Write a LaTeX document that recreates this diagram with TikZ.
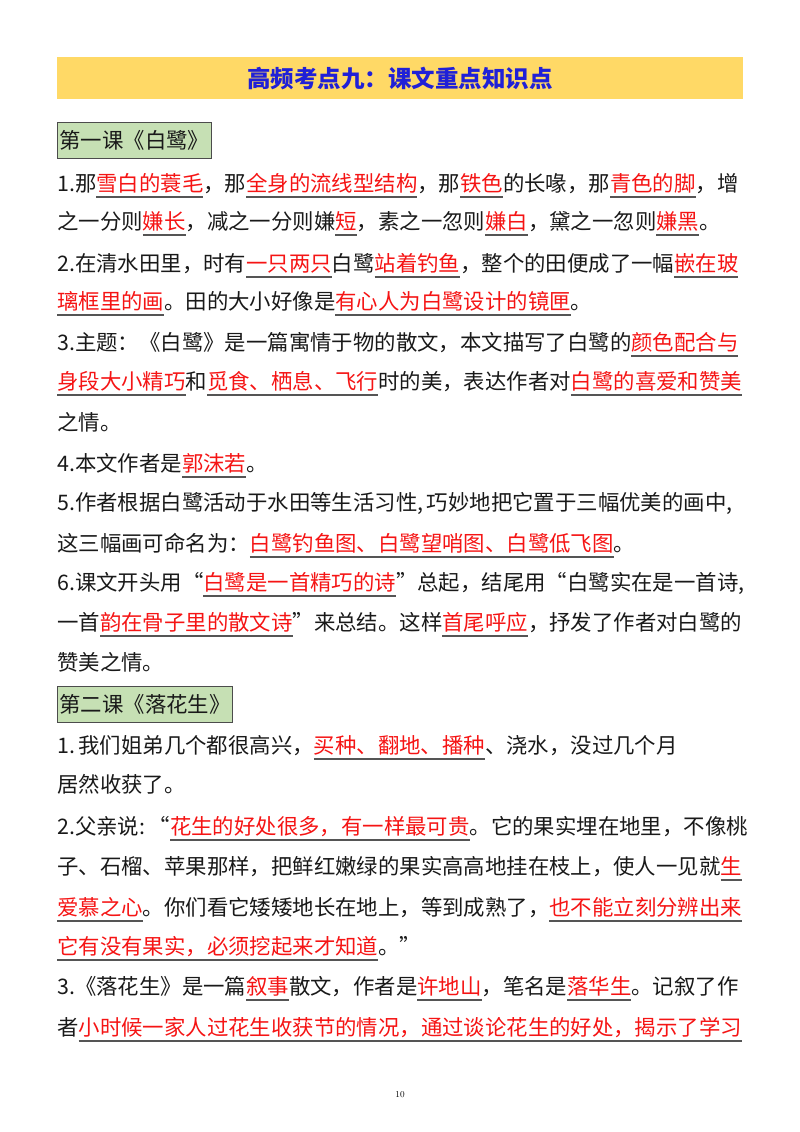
\documentclass[tikz,border=0pt]{standalone}
\usepackage{fontspec}
\newfontfamily\cjk{Noto Sans CJK SC}
\definecolor{titleyellow}{RGB}{255,217,102}
\definecolor{titleblue}{RGB}{32,32,215}
\definecolor{lessongreen}{RGB}{198,224,180}
\definecolor{hlred}{RGB}{245,20,20}
\definecolor{ulgray}{RGB}{85,85,85}
% red words, underlined in gray
\newcommand\hl[1]{\setbox0\hbox{\textcolor{hlred}{#1}}\rlap{\textcolor{ulgray}{\rule[-6.5pt]{\wd0}{1.2pt}}}\box0}
\tikzset{
	txt/.style={anchor=base west,inner sep=0pt,text=black!90,
		font={\cjk\fontsize{21.4}{26}\selectfont}},
	lesson/.style={anchor=west,draw=black!70,line width=0.8pt,fill=lessongreen,
		inner xsep=2pt,inner ysep=0pt,minimum height=36pt,text=black!90,
		font={\cjk\fontsize{21.4}{26}\selectfont}},
	titleband/.style={fill=titleyellow,minimum width=686pt,minimum height=42pt,
		inner sep=0pt,text=titleblue,font={\cjk\bfseries\fontsize{23.5}{28}\selectfont}}
}
\begin{document}
\begin{tikzpicture}[x=1pt,y=-1pt]
\useasboundingbox (0,0) rectangle (800,1132);
\node[titleband] (title) at (400,78) {高频考点九：课文重点知识点};
% lesson one
\node[lesson] (l1) at (57,140) {第一课《白鹭》};
\node[txt] (a1) at (57,191) {1.那\hl{雪白的蓑毛}，那\hl{全身的流线型结构}，那\hl{铁色}的长喙，那\hl{青色的脚}，增};
\node[txt] (a2) at (57,229) {之一分则\hl{嫌长}，减之一分则嫌\hl{短}，素之一忽则\hl{嫌白}，黛之一忽则\hl{嫌黑}。};
\node[txt] (a3) at (57,271) {2.在清水田里，时有\hl{一只两只}白鹭\hl{站着钓鱼}，整个的田便成了一幅\hl{嵌在玻}};
\node[txt] (a4) at (57,309) {\hl{璃框里的画}。田的大小好像是\hl{有心人为白鹭设计的镜匣}。};
\node[txt] (a5) at (57,350) {3.主题：《白鹭》是一篇寓情于物的散文，本文描写了白鹭的\hl{颜色配合与}};
\node[txt] (a6) at (57,389) {\hl{身段大小精巧}和\hl{觅食、栖息、飞行}时的美，表达作者对\hl{白鹭的喜爱和赞美}};
\node[txt] (a7) at (57,430) {之情。};
\node[txt] (a8) at (57,471) {4.本文作者是\hl{郭沫若}。};
\node[txt] (a9) at (57,510) {5.作者根据白鹭活动于水田等生活习性,\,巧妙地把它置于三幅优美的画中,};
\node[txt] (a10) at (57,551) {这三幅画可命名为：\hl{白鹭钓鱼图、白鹭望哨图、白鹭低飞图}。};
\node[txt] (a11) at (57,590) {6.课文开头用“\hl{白鹭是一首精巧的诗}”总起，结尾用“白鹭实在是一首诗,};
\node[txt] (a12) at (57,630) {一首\hl{韵在骨子里的散文诗}”来总结。这样\hl{首尾呼应}，抒发了作者对白鹭的};
\node[txt] (a13) at (57,670) {赞美之情。};
% lesson two
\node[lesson] (l2) at (57,704) {第二课《落花生》};
\node[txt] (b1) at (57,753) {1.\,我们姐弟几个都很高兴，\hl{买种、翻地、播种}、浇水，没过几个月};
\node[txt] (b2) at (57,792) {居然收获了。};
\node[txt] (b3) at (57,834) {2.父亲说:\,“\hl{花生的好处很多，有一样最可贵}。它的果实埋在地里，不像桃};
\node[txt] (b4) at (57,874) {子、石榴、苹果那样，把鲜红嫩绿的果实高高地挂在枝上，使人一见就\hl{生}};
\node[txt] (b5) at (57,915) {\hl{爱慕之心}。你们看它矮矮地长在地上，等到成熟了，\hl{也不能立刻分辨出来}};
\node[txt] (b6) at (57,954) {\hl{它有没有果实，必须挖起来才知道}。”};
\node[txt] (b7) at (57,994) {3.《落花生》是一篇\hl{叙事}散文，作者是\hl{许地山}，笔名是\hl{落华生}。记叙了作};
\node[txt] (b8) at (57,1035) {者\hl{小时候一家人过花生收获节的情况，通过谈论花生的好处，揭示了学习}};
\node (pageno) at (400,1095) {\fontsize{9}{10}\selectfont 10};
\end{tikzpicture}
\end{document}
